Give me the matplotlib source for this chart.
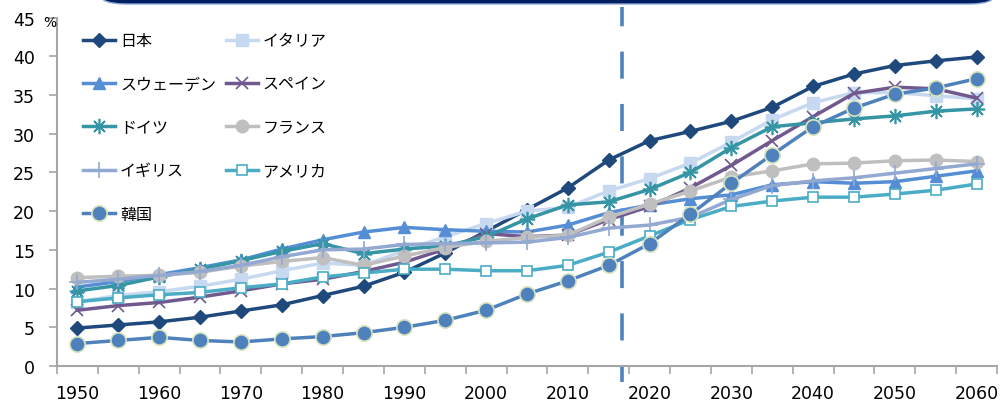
import matplotlib
matplotlib.use('Agg')
import matplotlib.pyplot as plt
from matplotlib.patches import FancyBboxPatch
import matplotlib.transforms as mtransforms
import numpy as np

plt.rcParams['font.family'] = ['Noto Sans CJK JP', 'DejaVu Sans']

years = list(range(1950, 2065, 5))
tick_years = list(range(1950, 2070, 10))

japan = [4.9, 5.3, 5.7, 6.3, 7.1, 7.9, 9.1, 10.3, 12.1, 14.6, 17.4, 20.2, 23.0, 26.6,
         29.1, 30.3, 31.6, 33.4, 36.1, 37.7, 38.8, 39.4, 39.9]
italy = [8.3, 9.1, 9.6, 10.3, 11.2, 12.3, 13.3, 13.0, 14.9, 16.7, 18.4, 20.0, 20.5, 22.6,
         24.2, 26.2, 28.9, 31.8, 34.0, 35.3, 35.3, 34.9, 34.5]
sweden = [10.2, 10.9, 11.8, 12.7, 13.7, 15.1, 16.3, 17.3, 17.9, 17.6, 17.4, 17.3, 18.2, 19.8,
          20.8, 21.6, 22.1, 23.4, 23.8, 23.6, 23.8, 24.5, 25.2]
spain = [7.2, 7.8, 8.2, 8.9, 9.7, 10.6, 11.2, 12.2, 13.4, 15.1, 17.1, 16.7, 16.9, 18.9,
         20.6, 23.0, 25.9, 29.1, 32.2, 35.2, 36.0, 35.8, 34.6]
germany = [9.7, 10.4, 11.5, 12.5, 13.6, 14.8, 15.8, 14.5, 15.1, 15.5, 16.7, 19.0, 20.8, 21.2,
           22.8, 25.0, 28.2, 30.9, 31.4, 31.9, 32.3, 32.9, 33.2]
france = [11.4, 11.6, 11.7, 12.1, 12.9, 13.5, 14.0, 13.0, 14.2, 15.3, 16.1, 16.6, 16.9, 19.2,
          20.9, 22.6, 24.4, 25.2, 26.1, 26.2, 26.5, 26.6, 26.4]
uk = [10.8, 11.2, 11.7, 12.2, 13.0, 14.1, 15.0, 15.1, 15.7, 15.8, 15.9, 16.0, 16.6, 17.8,
      18.2, 19.2, 21.5, 23.3, 23.9, 24.3, 24.9, 25.5, 26.1]
usa = [8.3, 8.8, 9.2, 9.5, 10.1, 10.6, 11.5, 12.0, 12.5, 12.5, 12.3, 12.3, 13.0, 14.7,
       16.8, 18.9, 20.6, 21.3, 21.8, 21.8, 22.2, 22.7, 23.5]
korea = [2.9, 3.3, 3.7, 3.3, 3.1, 3.5, 3.8, 4.3, 5.0, 5.9, 7.2, 9.3, 11.0, 13.0,
         15.8, 19.6, 23.6, 27.3, 30.9, 33.3, 35.1, 35.9, 37.1]

# actual / projection boundary (dashed line)
boundary_year = 2016.6

x = np.arange(len(years))

fig = plt.figure(figsize=(10.07, 4.06), dpi=100)
ax = fig.add_axes([57/1007, 1-367/406, 940/1007, 348.5/406])

lw = 2.5
series = [
    ('日本', japan, dict(color='#1F497D', marker='D', ms=7, mfc='#1F497D', mec='#1F497D')),
    ('イタリア', italy, dict(color='#C6D9F1', marker='s', ms=8, mfc='#C6D9F1', mec='#C6D9F1')),
    ('スウェーデン', sweden, dict(color='#558ED5', marker='^', ms=9, mfc='#558ED5', mec='#558ED5')),
    ('スペイン', spain, dict(color='#71588F', marker='x', ms=9, mew=1.2)),
    ('ドイツ', germany, dict(color='#3595A5', marker=(8, 2, 0), ms=11, mew=1.2)),
    ('フランス', france, dict(color='#BFBFBF', marker='o', ms=9, mfc='#BFBFBF', mec='#BFBFBF')),
    ('イギリス', uk, dict(color='#93A9D2', marker='+', ms=11, mew=1.2)),
    ('アメリカ', usa, dict(color='#4BACC6', marker='s', ms=7, mfc='white', mec='#4BACC6', mew=1.2)),
    ('韓国', korea, dict(color='#4F81BD', marker='o', ms=11, mfc='#4F81BD', mec='#D7E4BD', mew=1.2)),
]

handles = {}
for name, vals, kw in series:
    h, = ax.plot(x, vals, ls='-', lw=lw, label=name, clip_on=False, **kw)
    handles[name] = h

# dashed boundary line
bx = (boundary_year - years[0]) / 5
trans = mtransforms.blended_transform_factory(ax.transData, ax.transAxes)
ax.plot([bx, bx], [-0.045, 1.03], transform=trans, color='#4F81BD', lw=2.6,
        ls=(3, (7.5, 7)), clip_on=False, zorder=1)

ax.set_xlim(-0.5, len(years) - 0.5)
ax.set_ylim(0, 45)
ax.set_yticks(range(0, 50, 5))
ax.set_xticks([years.index(y) for y in tick_years])
ax.set_xticklabels([str(y) for y in tick_years])
ax.set_xticks(np.arange(-0.5, len(years), 1), minor=True)
ax.tick_params(axis='x', which='major', length=0, pad=13, labelsize=12.5)
ax.tick_params(axis='x', which='minor', length=6, width=1.2, color='#A6A6A6')
ax.tick_params(axis='y', length=6, width=1.2, color='#A6A6A6', pad=10, labelsize=12.5)
for lab in ax.get_xticklabels() + ax.get_yticklabels():
    lab.set_family('DejaVu Sans')

for s in ['top', 'right']:
    ax.spines[s].set_visible(False)
for s in ['left', 'bottom']:
    ax.spines[s].set_color('#A6A6A6')
    ax.spines[s].set_linewidth(1.5)

fig.text(50/1007, 1-23/406, '%', fontsize=10, ha='center', va='center', family='DejaVu Sans')

order = ['日本', 'スウェーデン', 'ドイツ', 'イギリス', '韓国', 'イタリア', 'スペイン', 'フランス', 'アメリカ']
leg = ax.legend([handles[n] for n in order], order, ncol=2, loc='upper left',
                bbox_to_anchor=(0.028, 0.958), frameon=False, fontsize=11.5,
                handlelength=2.0, handletextpad=0.3, columnspacing=0.6,
                labelspacing=1.65, borderpad=0, borderaxespad=0)

# navy title box cut off at top
box = FancyBboxPatch((100/1007, 1-5/406), 895/1007, 0.1, transform=fig.transFigure,
                     boxstyle='round,pad=0,rounding_size=0.025', fc='#002060',
                     ec='#8EA9DB', lw=1, clip_on=False)
fig.patches.append(box)

fig.savefig('out.png', dpi=100)
